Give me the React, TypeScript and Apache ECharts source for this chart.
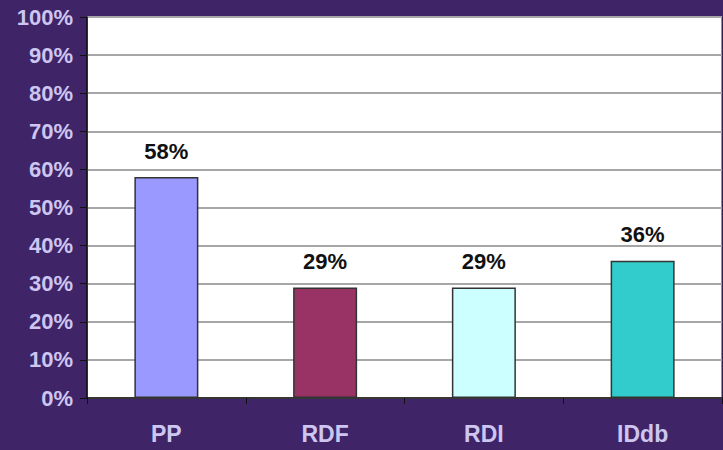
import React, { useEffect, useRef } from "react";
import * as echarts from "echarts";

const categories = ["PP", "RDF", "RDI", "IDdb"];
const values = [58, 29, 29, 36];
const barColors = ["#9999ff", "#993366", "#ccffff", "#33cccc"];
const yTicks = { min: 0, max: 100, interval: 10 };

export default function App() {
  const ref = useRef<HTMLDivElement>(null);
  useEffect(() => {
    const chart = echarts.init(ref.current!, null, { renderer: "svg" });
    chart.setOption({
      animation: false,
      backgroundColor: "#3f2468",
      grid: { left: 87, top: 17, right: 1, bottom: 52, show: true, backgroundColor: "#ffffff", borderColor: "#2a1a40", borderWidth: 1 },
      xAxis: {
        type: "category",
        data: categories,
        axisLine: { lineStyle: { color: "#111", width: 1.5 } },
        axisTick: { show: true, length: 6, lineStyle: { color: "#111" } },
        axisLabel: { color: "#cdc6f0", fontFamily: "Liberation Sans, Arial", fontWeight: "bold", fontSize: 23, margin: 24 },
      },
      yAxis: {
        type: "value",
        min: yTicks.min,
        max: yTicks.max,
        interval: yTicks.interval,
        axisLine: { show: true, lineStyle: { color: "#111", width: 1.5 } },
        axisTick: { show: true, length: 7, lineStyle: { color: "#111" } },
        axisLabel: { color: "#cdc6f0", fontFamily: "Liberation Sans, Arial", fontWeight: "bold", fontSize: 22, margin: 14, formatter: "{value}%" },
        splitLine: { lineStyle: { color: "#a6a6a6", width: 2 } },
      },
      series: [
        {
          type: "bar",
          data: values.map((v, i) => ({ value: v, itemStyle: { color: barColors[i] } })),
          barWidth: 64,
          itemStyle: { borderColor: "#333", borderWidth: 1.5 },
          label: {
            show: true,
            position: "top",
            distance: 15,
            formatter: "{c}%",
            color: "#111",
            fontFamily: "Liberation Sans, Arial",
            fontWeight: "bold",
            fontSize: 22,
          },
        },
      ],
    });
    return () => chart.dispose();
  }, []);
  return <div ref={ref} style={{ width: 723, height: 450, position: "fixed", left: 0, top: 0 }} />;
}
